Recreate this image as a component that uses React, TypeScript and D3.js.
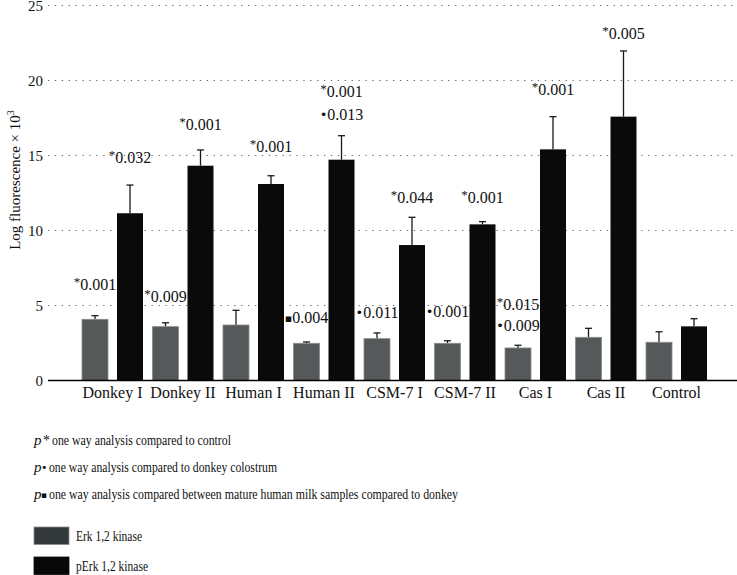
import React from "react";
import * as d3 from "d3";

const categories = ["Donkey I", "Donkey II", "Human I", "Human II", "CSM-7 I", "CSM-7 II", "Cas I", "Cas II", "Control"];
const seriesNames = ["Erk 1,2 kinase", "pErk 1,2 kinase"];
const erkValues = [4.08, 3.59, 3.7, 2.48, 2.79, 2.48, 2.17, 2.88, 2.55];
const erkErrors = [0.24, 0.26, 0.98, 0.09, 0.38, 0.17, 0.18, 0.6, 0.7];
const perkValues = [11.15, 14.32, 13.1, 14.72, 9.03, 10.41, 15.41, 17.59, 3.61];
const perkErrors = [1.88, 1.05, 0.55, 1.6, 1.85, 0.18, 2.18, 4.38, 0.51];
const yTicks = [0, 5, 10, 15, 20, 25];

// annotations: category, series index, marker, p-value, label baseline (data units)
const annCategory = ["Donkey I", "Donkey II", "Donkey I", "Donkey II", "Human I", "Human II", "Human II", "Human II", "CSM-7 I", "CSM-7 II", "CSM-7 I", "CSM-7 II", "Cas I", "Cas I", "Cas I", "Cas II"];
const annSeries = [0, 0, 1, 1, 1, 1, 1, 0, 0, 0, 1, 1, 0, 0, 1, 1];
const annMarker = ["*", "*", "*", "*", "*", "*", "•", "▪", "•", "•", "*", "*", "*", "•", "*", "*"];
const annText = ["0.001", "0.009", "0.032", "0.001", "0.001", "0.001", "0.013", "0.004", "0.011", "0.001", "0.044", "0.001", "0.015", "0.009", "0.001", "0.005"];
const annY = [6.03, 5.25, 14.5, 16.7, 15.25, 18.9, 17.37, 3.81, 4.15, 4.25, 11.81, 11.83, 4.7, 3.32, 19.03, 22.75];

const noteMarkers = ["*", "•", "▪"];
const noteTexts = [
  "one way analysis compared to control",
  "one way analysis compared to donkey colostrum",
  "one way analysis compared between mature human milk samples compared to donkey",
];
const noteTextStart = [52, 49, 49];
const noteTextWidth = [179, 228, 409];
const legendTextWidth = [66, 72];

const W = 737;
const H = 575;
const FONT = "'Liberation Serif', 'DejaVu Serif', serif";
const GRAY = "#555959";
const BLACK = "#0a0a0a";

export default function App() {
  const y = d3.scaleLinear().domain([0, 25]).range([380.5, 5.5]);
  const x0 = d3.scaleBand<string>().domain(categories).range([77.25, 711.75]).padding(0);
  const x1 = d3.scaleBand<string>().domain(["0", "1"]).range([4.75, 65.75]).paddingInner(9 / 35).paddingOuter(0);
  const vals = [erkValues, perkValues];
  const errs = [erkErrors, perkErrors];
  const fills = [GRAY, BLACK];
  const bw = x1.bandwidth();

  return (
    <div style={{ position: "absolute", left: 0, top: 0 }}>
      <svg width={W} height={H} style={{ display: "block", background: "#fff", fontFamily: FONT }}>
        {/* grid */}
        {yTicks.filter((t) => t > 0).map((t) => (
          <line key={t} x1={48} x2={W} y1={y(t)} y2={y(t)} stroke="#666" strokeWidth={1} strokeDasharray="1.3,5.6" />
        ))}
        {/* y tick labels */}
        {yTicks.map((t) => (
          <text key={t} x={43} y={y(t) + 5.5} textAnchor="end" fontSize={15} fill="#111">{t}</text>
        ))}
        {/* y label */}
        <text transform={`translate(20,180) rotate(-90)`} textAnchor="middle" fontSize={15} fill="#111">
          Log fluorescence × 10<tspan dy={-6} fontSize={10}>3</tspan>
        </text>
        {/* bars */}
        {categories.map((c, i) => (
          <g key={c} transform={`translate(${x0(c)},0)`}>
            {[0, 1].map((s) => {
              const bx = x1(String(s))!;
              const v = vals[s][i];
              const e = errs[s][i];
              const cx = bx + bw / 2;
              return (
                <g key={s}>
                  <line x1={cx} x2={cx} y1={y(v)} y2={y(v + e)} stroke="#1a1a1a" strokeWidth={1.3} />
                  <line x1={cx - 3.5} x2={cx + 3.5} y1={y(v + e)} y2={y(v + e)} stroke="#1a1a1a" strokeWidth={1.3} />
                  <rect x={bx} y={y(v)} width={bw} height={y(0) - y(v)} fill={fills[s]} stroke={s === 0 ? "#8a8c8c" : BLACK} strokeWidth={s === 0 ? 0.8 : 0} />
                </g>
              );
            })}
          </g>
        ))}
        {/* x axis */}
        <line x1={48} x2={W} y1={y(0)} y2={y(0)} stroke="#000" strokeWidth={1.4} />
        {categories.map((c) => (
          <text key={c} x={x0(c)! + x0.bandwidth() / 2} y={398} textAnchor="middle" fontSize={16} fill="#111">{c}</text>
        ))}
        {/* annotations */}
        {annText.map((t, k) => {
          const c = annCategory[k];
          const s = annSeries[k];
          const cx = x0(c)! + x1(String(s))! + bw / 2;
          const m = annMarker[k];
          return (
            <text key={k} x={cx} y={y(annY[k])} textAnchor="middle" fontSize={16} fill="#111">
              {m === "*" ? (
                <tspan fontSize={13} dy={-4}>*</tspan>
              ) : (
                <tspan fontSize={m === "▪" ? 11 : 13} dy={-1} style={{ fontFamily: "'DejaVu Sans', sans-serif" }}>{m}</tspan>
              )}
              <tspan dy={m === "*" ? 4 : 1}>{t}</tspan>
            </text>
          );
        })}
        {/* notes */}
        {noteTexts.map((n, k) => {
          const by = 445 + k * 27;
          const m = noteMarkers[k];
          return (
            <g key={k}>
              <text x={34} y={by} fontSize={15} fontStyle="italic" fill="#111">p</text>
              {m === "*" ? (
                <text x={43} y={by} fontSize={14} fill="#111">*</text>
              ) : (
                <text x={41} y={by - 1} fontSize={m === "▪" ? 9 : 11} fill="#111" style={{ fontFamily: "'DejaVu Sans', sans-serif" }}>{m}</text>
              )}
              <text x={noteTextStart[k]} y={by} fontSize={15} fill="#111" textLength={noteTextWidth[k]} lengthAdjust="spacingAndGlyphs">{n}</text>
            </g>
          );
        })}
        {/* series legend */}
        {seriesNames.map((n, k) => (
          <g key={n} transform={`translate(34,${527 + k * 30})`}>
            <rect x={0} y={0} width={35} height={17.5} fill={k === 0 ? "#33393b" : "#080808"} stroke={k === 0 ? "#8a8c8c" : "#080808"} strokeWidth={0.8} />
            <text x={42} y={13.5} fontSize={15} fill="#111" textLength={legendTextWidth[k]} lengthAdjust="spacingAndGlyphs">{n}</text>
          </g>
        ))}
      </svg>
    </div>
  );
}
